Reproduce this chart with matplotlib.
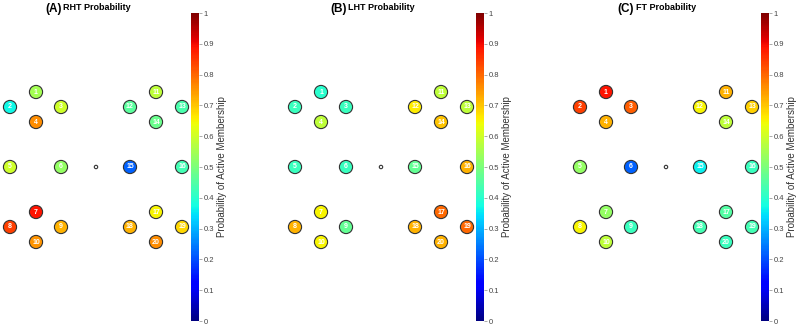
import matplotlib.pyplot as plt
import matplotlib as mpl
import numpy as np

plt.rcParams['font.family'] = ['Liberation Sans', 'DejaVu Sans']

# electrode layout (relative to the centre marker)
node_x = [-60, -86, -35, -60, -86, -35, -60, -86, -35, -60,
          60, 34, 86, 60, 34, 86, 60, 34, 86, 60]
node_y = [75, 60, 60, 45, 0, 0, -45, -60, -60, -75,
          75, 60, 60, 45, 0, 0, -45, -60, -60, -75]
node_ids = list(range(1, 21))

panels = ["(A)", "(B)", "(C)"]
titles = ["RHT Probability", "LHT Probability", "FT Probability"]

rht = [0.55, 0.37, 0.60, 0.76, 0.60, 0.53, 0.89, 0.84, 0.72, 0.75,
       0.58, 0.46, 0.44, 0.48, 0.22, 0.43, 0.65, 0.72, 0.68, 0.76]
lht = [0.40, 0.42, 0.42, 0.58, 0.42, 0.42, 0.65, 0.72, 0.47, 0.65,
       0.58, 0.66, 0.58, 0.70, 0.47, 0.72, 0.80, 0.72, 0.80, 0.72]
ft = [0.89, 0.84, 0.81, 0.72, 0.53, 0.22, 0.53, 0.65, 0.42, 0.58,
      0.72, 0.65, 0.69, 0.58, 0.36, 0.42, 0.45, 0.43, 0.43, 0.42]
probs = [rht, lht, ft]

W, H = 797, 327
fig = plt.figure(figsize=(W / 100, H / 100), dpi=100)
cmap = plt.get_cmap('jet')
norm = mpl.colors.Normalize(0, 1)

title_x = [(45, 63), (330, 348), (617, 636)]

for i in range(3):
    left = i * 285
    ax = fig.add_axes([left / W, 0, 190 / W, 1])
    ax.set_xlim(-96, 94)
    ax.set_ylim(-160, 167)
    ax.axis('off')
    ax.scatter(node_x, node_y, c=probs[i], cmap=cmap, norm=norm, s=90,
               edgecolors='#333333', linewidths=0.8, zorder=2)
    for n, x, y in zip(node_ids, node_x, node_y):
        ax.text(x, y, str(n), color='white', fontsize=5, fontweight='bold',
                ha='center', va='center', zorder=3)
    ax.scatter([0], [0], s=6, facecolors='none', edgecolors='#333333', linewidths=0.8)

    # colorbar
    cax = fig.add_axes([(left + 191) / W, 6 / H, 8 / W, 308 / H])
    cb = mpl.colorbar.ColorbarBase(cax, cmap=cmap, norm=norm)
    cb.outline.set_visible(False)
    ticks = np.round(np.arange(0, 1.01, 0.1), 1)
    cb.set_ticks(ticks)
    cb.set_ticklabels(['0' if t == 0 else '1' if t == 1 else str(t) for t in ticks])
    cax.tick_params(labelsize=5.5, length=2, width=0.5, color='#888888',
                    labelcolor='#444444', pad=1.5)
    cb.set_label('Probability of Active Membership', fontsize=7,
                 color='#333333', labelpad=2)

    tx1, tx2 = title_x[i]
    fig.text(tx1 / W, 1 - 9 / H, panels[i], fontsize=8.5, fontweight='bold',
             ha='left', va='center')
    fig.text(tx2 / W, 1 - 8 / H, titles[i], fontsize=6.5, fontweight='bold',
             ha='left', va='center')

fig.savefig('out.png', dpi=100)
